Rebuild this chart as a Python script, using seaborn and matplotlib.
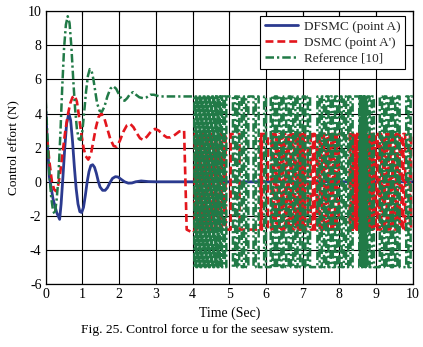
import numpy as np
import pandas as pd
import matplotlib
matplotlib.use("Agg")
import matplotlib.pyplot as plt
import seaborn as sns

# transient part
t_dfsmc = [0, 0.04, 0.1, 0.2, 0.3, 0.38, 0.42, 0.47, 0.52, 0.57, 0.63, 0.68, 0.73, 0.78, 0.83, 0.88,
           0.93, 0.98, 1.03, 1.08, 1.13, 1.18, 1.23, 1.28, 1.33, 1.38, 1.43, 1.48, 1.55, 1.62, 1.68,
           1.75, 1.82, 1.9, 1.97, 2.05, 2.15, 2.25, 2.35, 2.45, 2.6, 2.8, 3.0, 10.0]
u_dfsmc = [4.3, 2.5, 0.3, -1.0, -1.8, -2.2, -1.3, 0.3, 2.0, 3.4, 4.0, 3.6, 2.4, 0.9, -0.4, -1.3,
           -1.75, -1.8, -1.5, -0.8, 0.0, 0.6, 0.95, 1.0, 0.85, 0.5, 0.05, -0.3, -0.5, -0.5, -0.35,
           -0.05, 0.2, 0.3, 0.28, 0.15, 0.0, -0.08, -0.07, 0.0, 0.05, 0.01, 0.0, 0.0]

t_dsmc = [0, 0.05, 0.1, 0.17, 0.23, 0.28, 0.34, 0.4, 0.46, 0.53, 0.6, 0.67, 0.73, 0.79, 0.85, 0.91,
          0.97, 1.03, 1.09, 1.16, 1.23, 1.3, 1.37, 1.44, 1.52, 1.6, 1.68, 1.76, 1.85, 1.93, 2.02,
          2.12, 2.21, 2.3, 2.39, 2.48, 2.57, 2.66, 2.76, 2.87, 2.98, 3.08, 3.2, 3.3, 3.4, 3.52,
          3.64, 3.77, 3.84, 4.02]
u_dsmc = [3.2, 2.3, 1.2, 0.0, -0.45, -0.55, -0.2, 0.6, 1.7, 2.9, 3.9, 4.6, 4.95, 5.05, 4.7, 3.8,
          2.8, 2.0, 1.5, 1.3, 1.6, 2.4, 3.2, 3.8, 4.0, 3.7, 3.1, 2.5, 2.1, 2.05, 2.4,
          2.95, 3.3, 3.4, 3.2, 2.85, 2.55, 2.45, 2.65, 2.95, 3.1, 3.0, 2.75, 2.6, 2.6, 2.75,
          2.95, 3.0, -2.8, -3.0]

t_ref = [0, 0.05, 0.1, 0.15, 0.2, 0.25, 0.3, 0.34, 0.4, 0.45, 0.5, 0.55, 0.6, 0.65, 0.7, 0.75,
         0.8, 0.85, 0.9, 0.95, 1.0, 1.05, 1.1, 1.15, 1.2, 1.25, 1.3, 1.35, 1.4, 1.47, 1.53, 1.6,
         1.68, 1.76, 1.84, 1.92, 2.0, 2.08, 2.15, 2.22, 2.3, 2.38, 2.46, 2.55, 2.65, 2.75, 2.85,
         2.95, 3.1, 4.05]
u_ref = [4.8, 2.5, 0.5, -0.9, -1.7, -1.9, -1.0, 0.0, 2.8, 5.5, 7.8, 9.2, 9.7, 9.3, 7.9, 6.0,
         4.3, 3.1, 2.5, 2.45, 3.0, 4.1, 5.3, 6.2, 6.6, 6.5, 6.0, 5.3, 4.6, 4.15, 4.1, 4.4,
         5.0, 5.45, 5.6, 5.45, 5.1, 4.8, 4.75, 4.9, 5.15, 5.25, 5.1, 4.95, 4.9, 4.95, 5.1,
         5.1, 5.0, 5.0]

# chattering part: switching instants (the signal toggles between two levels)
ref_levels = [5.0, -5.0]
ref_switch = [4.05, 4.08, 4.10, 4.13, 4.16, 4.19, 4.21, 4.24, 4.27, 4.30, 4.33, 4.36, 4.38, 4.41,
              4.44, 4.47, 4.50, 4.53, 4.56, 4.59, 4.62, 4.65, 4.68, 4.71, 4.74, 4.77, 4.80, 4.84,
              4.88, 4.92, 5.10, 5.16, 5.22, 5.27, 5.34, 5.40, 5.46, 5.52, 5.66, 5.72, 5.80, 5.95,
              6.00, 6.13, 6.18, 6.24, 6.30, 6.36, 6.42, 6.48, 6.55, 6.62, 6.68, 6.74, 6.80, 6.86,
              6.93, 7.00, 7.07, 7.14, 7.20, 7.40, 7.46, 7.52, 7.58, 7.64, 7.70, 7.76, 7.82, 7.88,
              7.94, 8.00, 8.06, 8.12, 8.18, 8.24, 8.30, 8.36, 8.54, 8.56, 8.58, 8.60, 8.62, 8.64,
              8.66, 8.68, 8.70, 8.72, 8.74, 8.76, 8.82, 8.88, 8.94, 9.10, 9.16, 9.22, 9.28, 9.34,
              9.40, 9.46, 9.52, 9.58, 9.64, 9.82, 9.88, 9.94]

dsmc_levels = [-2.8, 2.8]
dsmc_switch = [4.06, 4.09, 4.12, 4.15, 4.18, 4.22, 4.25, 4.29, 4.33, 4.37, 4.41, 4.45, 4.49, 4.53,
               4.57, 4.61, 4.65, 4.70, 4.75, 4.80, 4.85, 4.90, 5.04, 5.28, 5.85, 5.87, 5.89, 6.05,
               6.15, 6.22, 6.27, 6.32, 6.37, 6.42, 6.47, 6.52, 6.57, 6.62, 6.67, 6.72, 6.77, 6.82,
               6.87, 6.90, 6.91, 6.92, 6.93, 6.94, 6.95, 6.96, 6.97, 6.98, 6.99, 7.00, 7.01, 7.02,
               7.03, 7.04, 7.05, 7.06, 7.14, 7.22, 7.28, 7.33, 7.38, 7.43, 7.48, 7.53, 7.58, 7.63,
               7.68, 7.73, 7.78, 7.83, 7.88, 7.93, 7.98, 8.28, 8.32, 8.34, 8.36, 8.38, 8.40, 8.42,
               8.44, 8.46, 8.48, 8.50, 8.52, 8.54, 8.56, 8.58, 8.60, 8.62, 8.64, 8.66, 8.68, 8.70,
               8.72, 8.74, 8.76, 8.78, 8.80, 8.82, 8.84, 8.86, 8.88, 8.90, 8.92, 8.94, 8.96, 8.98,
               9.04, 9.09, 9.14, 9.19, 9.24, 9.29, 9.34, 9.39, 9.44, 9.49, 9.54, 9.59, 9.64, 9.69,
               9.74, 9.79, 9.92, 9.95]


def with_chatter(t, u, levels, switches, t_end=10.0):
    t = list(t)
    u = list(u)
    k = 0
    for s in switches:
        t += [s, s]
        u += [levels[k], levels[1 - k]]
        k = 1 - k
    t.append(t_end)
    u.append(levels[k])
    return t, u


t2, u2 = with_chatter(t_dsmc, u_dsmc, dsmc_levels, dsmc_switch)
t3, u3 = with_chatter(t_ref, u_ref, ref_levels, ref_switch)

sns.set_theme(style="white")
plt.rcParams["font.family"] = ["Liberation Serif", "DejaVu Serif"]
plt.rcParams["axes.unicode_minus"] = False

fig, ax = plt.subplots(figsize=(4.23, 3.47), dpi=100)
fig.subplots_adjust(left=0.108, right=0.976, top=0.968, bottom=0.181)

red_dash = [3.0, 1.5]
green_dash = [3.4, 1.2, 0.9, 1.2]

sns.lineplot(x=t_dfsmc, y=u_dfsmc, ax=ax, sort=False, estimator=None, color="#2b3a8f",
             linewidth=2.0, label="DFSMC (point A)")
sns.lineplot(x=t2, y=u2, ax=ax, sort=False, estimator=None, color="#e3161d",
             linewidth=1.9, label="DSMC (point A')")
sns.lineplot(x=t3, y=u3, ax=ax, sort=False, estimator=None, color="#217a47",
             linewidth=1.8, label="Reference [10]")
ax.lines[1].set_dashes(red_dash)
ax.lines[2].set_dashes(green_dash)

ax.set_xlim(0, 10)
ax.set_ylim(-6, 10)
ax.set_xticks(range(0, 11))
ax.set_yticks(range(-6, 11, 2))
ax.grid(True, color="black", linewidth=0.8, linestyle="-")
ax.set_axisbelow(True)
for sp in ax.spines.values():
    sp.set_color("black")
    sp.set_linewidth(0.9)
ax.tick_params(direction="in", length=3, width=0.8, color="black", top=True, right=True,
               labelsize=10, pad=3, labelcolor="black")
ax.set_xlabel("Time (Sec)", fontsize=10, labelpad=4, color="black")
ax.set_ylabel("Control effort (N)", fontsize=9.5, labelpad=6, color="black")

leg = ax.legend(loc="upper right", bbox_to_anchor=(0.978, 0.982), fontsize=9.5, frameon=True,
                fancybox=False, framealpha=1, edgecolor="black", handlelength=2.5,
                borderpad=0.35, labelspacing=0.28, handletextpad=0.45, borderaxespad=0)
leg.get_frame().set_linewidth(0.8)
leg.get_lines()[1].set_dashes(red_dash)
leg.get_lines()[2].set_dashes(green_dash)

fig.text(0.49, 0.049, "Fig. 25. Control force u for the seesaw system.", ha="center",
         va="center", fontsize=9.7, color="black")

fig.savefig("out.png", dpi=100)
